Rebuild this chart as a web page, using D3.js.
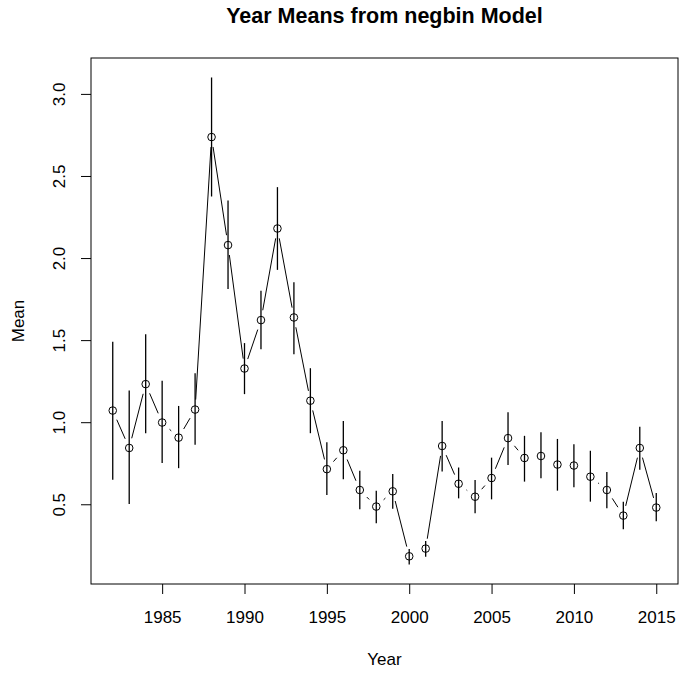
<!DOCTYPE html>
<html>
<head>
<meta charset="utf-8">
<script src="https://cdn.jsdelivr.net/npm/d3@7"></script>
<style>
  html, body { margin: 0; padding: 0; background: #fff; }
  svg { display: block; font-family: "Liberation Sans", Arial, sans-serif; }
</style>
</head>
<body>
<svg id="chart" width="679" height="673"></svg>
<script>
// Year estimates with lower / upper interval bounds
const years = [1982, 1983, 1984, 1985, 1986, 1987, 1988, 1989, 1990, 1991, 1992, 1993,
  1994, 1995, 1996, 1997, 1998, 1999, 2000, 2001, 2002, 2003, 2004, 2005, 2006, 2007,
  2008, 2009, 2010, 2011, 2012, 2013, 2014, 2015];
const means = [1.071, 0.843, 1.232, 0.998, 0.906, 1.077, 2.737, 2.079, 1.327, 1.622, 2.180, 1.638,
  1.131, 0.714, 0.829, 0.587, 0.486, 0.579, 0.183, 0.23, 0.855, 0.625, 0.546, 0.66, 0.903, 0.782,
  0.794, 0.742, 0.736, 0.668, 0.587, 0.431, 0.843, 0.480];
const lower = [0.650, 0.502, 0.933, 0.752, 0.72, 0.862, 2.375, 1.811, 1.171, 1.444, 1.928, 1.414,
  0.933, 0.556, 0.652, 0.47, 0.384, 0.472, 0.133, 0.181, 0.699, 0.536, 0.446, 0.530, 0.740, 0.638,
  0.659, 0.583, 0.604, 0.516, 0.476, 0.348, 0.710, 0.397];
const upper = [1.490, 1.193, 1.536, 1.253, 1.099, 1.298, 3.10, 2.350, 1.482, 1.801, 2.432, 1.853,
  1.329, 0.878, 1.008, 0.704, 0.582, 0.684, 0.227, 0.277, 1.008, 0.724, 0.648, 0.784, 1.061, 0.917,
  0.939, 0.898, 0.866, 0.826, 0.696, 0.516, 0.973, 0.568];
const xTicks = [1985, 1990, 1995, 2000, 2005, 2010, 2015];
const yTicks = [0.5, 1.0, 1.5, 2.0, 2.5, 3.0];

const titleText = "Year Means from negbin Model";
const xLabel = "Year";
const yLabel = "Mean";

const data = years.map((yr, i) => ({ year: yr, mean: means[i], lo: lower[i], hi: upper[i] }));

const svg = d3.select("#chart");
const plotL = 91, plotR = 678, plotT = 58, plotB = 584;

// axis ranges padded by 4% on each side
const xPad = (d3.max(years) - d3.min(years)) * 0.04;
const x = d3.scaleLinear()
  .domain([d3.min(years) - xPad, d3.max(years) + xPad])
  .range([plotL, plotR]);
const yMin = d3.min(lower), yMax = d3.max(upper);
const yPad = (yMax - yMin) * 0.04;
const y = d3.scaleLinear()
  .domain([yMin - yPad, yMax + yPad])
  .range([plotB, plotT]);

const fontSize = 17;

// x axis
const gx = svg.append("g")
  .attr("transform", `translate(0,${plotB})`)
  .call(d3.axisBottom(x).tickValues(xTicks).tickSize(10).tickSizeOuter(0).tickFormat(d3.format("d")));
gx.select(".domain").remove();
gx.selectAll(".tick line").attr("stroke", "#000");
gx.selectAll(".tick text")
  .attr("y", 38.5).attr("dy", null)
  .attr("fill", "#000")
  .style("font-size", fontSize + "px");

// y axis with rotated labels
const gy = svg.append("g")
  .attr("transform", `translate(${plotL},0)`)
  .call(d3.axisLeft(y).tickValues(yTicks).tickSize(10).tickSizeOuter(0).tickFormat(d3.format(".1f")));
gy.select(".domain").remove();
gy.selectAll(".tick line").attr("stroke", "#000");
gy.selectAll(".tick text")
  .attr("transform", "rotate(-90)")
  .attr("x", 0).attr("y", -26).attr("dy", null)
  .attr("text-anchor", "middle")
  .attr("fill", "#000")
  .style("font-size", fontSize + "px");

// plot frame
svg.append("rect")
  .attr("x", plotL).attr("y", plotT)
  .attr("width", plotR - plotL).attr("height", plotB - plotT)
  .attr("fill", "none").attr("stroke", "#000").attr("stroke-width", 1);

// connecting segments, trimmed so they stop short of each point
const gap = 10;
const segs = [];
for (let i = 0; i < data.length - 1; i++) {
  const x0 = x(data[i].year), y0 = y(data[i].mean);
  const x1 = x(data[i + 1].year), y1 = y(data[i + 1].mean);
  const len = Math.hypot(x1 - x0, y1 - y0);
  if (len > 2 * gap) {
    const ux = (x1 - x0) / len, uy = (y1 - y0) / len;
    segs.push({ x0: x0 + ux * gap, y0: y0 + uy * gap, x1: x1 - ux * gap, y1: y1 - uy * gap });
  }
}
svg.append("g").selectAll("line").data(segs).join("line")
  .attr("x1", d => d.x0).attr("y1", d => d.y0)
  .attr("x2", d => d.x1).attr("y2", d => d.y1)
  .attr("stroke", "#000").attr("stroke-width", 1);

// points
svg.append("g").selectAll("circle").data(data).join("circle")
  .attr("cx", d => x(d.year)).attr("cy", d => y(d.mean))
  .attr("r", 3.8)
  .attr("fill", "none").attr("stroke", "#000").attr("stroke-width", 1);

// interval bars
svg.append("g").selectAll("line").data(data).join("line")
  .attr("x1", d => x(d.year)).attr("x2", d => x(d.year))
  .attr("y1", d => y(d.lo)).attr("y2", d => y(d.hi))
  .attr("stroke", "#000").attr("stroke-width", 1.3);

// title and axis labels
svg.append("text")
  .attr("x", (plotL + plotR) / 2).attr("y", 23)
  .attr("text-anchor", "middle")
  .style("font-size", "21.5px").style("font-weight", "bold")
  .text(titleText);
svg.append("text")
  .attr("x", (plotL + plotR) / 2).attr("y", 665)
  .attr("text-anchor", "middle")
  .style("font-size", fontSize + "px")
  .text(xLabel);
svg.append("text")
  .attr("transform", `translate(24,${(plotT + plotB) / 2}) rotate(-90)`)
  .attr("text-anchor", "middle")
  .style("font-size", fontSize + "px")
  .text(yLabel);
</script>
</body>
</html>
